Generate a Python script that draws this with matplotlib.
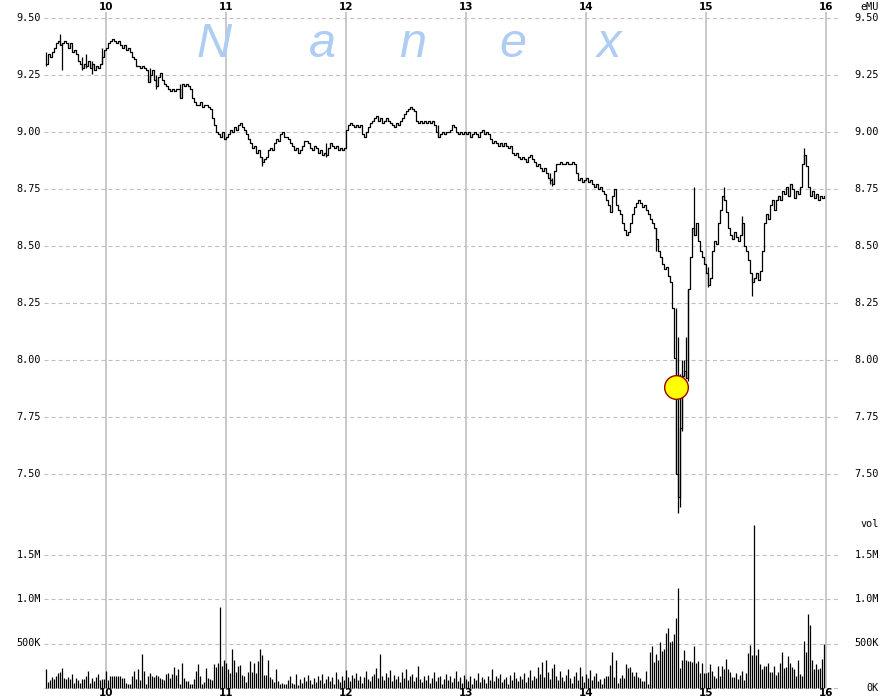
import numpy as np
import matplotlib.pyplot as plt
from matplotlib.transforms import blended_transform_factory

# one close per minute, 9:30 -> 16:00
close = [
    9.30, 9.34, 9.33, 9.35, 9.37, 9.39, 9.40, 9.38, 9.39, 9.40,
    9.39, 9.37, 9.39, 9.35, 9.36, 9.34, 9.31, 9.30, 9.28, 9.30,
    9.29, 9.31, 9.28, 9.30, 9.27, 9.29, 9.28, 9.30, 9.33, 9.36,
    9.37, 9.39, 9.40, 9.41, 9.40, 9.39, 9.40, 9.38, 9.37, 9.38,
    9.36, 9.37, 9.35, 9.33, 9.32, 9.29, 9.29, 9.28, 9.29, 9.28,
    9.27, 9.22, 9.25, 9.27, 9.23, 9.20, 9.24, 9.26, 9.23, 9.21,
    9.20, 9.19, 9.18, 9.19, 9.18, 9.19, 9.19, 9.15, 9.21, 9.20,
    9.21, 9.20, 9.19, 9.15, 9.13, 9.12, 9.12, 9.13, 9.11, 9.12,
    9.12, 9.11, 9.10, 9.06, 9.03, 9.00, 8.99, 8.98, 9.00, 8.97,
    8.98, 8.99, 9.01, 9.00, 9.02, 9.01, 9.03, 9.04, 9.02, 9.01,
    8.99, 8.97, 8.95, 8.93, 8.94, 8.91, 8.92, 8.89, 8.87, 8.88,
    8.89, 8.92, 8.93, 8.92, 8.95, 8.97, 8.96, 8.99, 9.00, 8.98,
    8.98, 8.97, 8.95, 8.94, 8.92, 8.93, 8.91, 8.92, 8.94, 8.96,
    8.96, 8.95, 8.93, 8.92, 8.94, 8.93, 8.91, 8.92, 8.90, 8.91,
    8.90, 8.93, 8.95, 8.94, 8.93, 8.94, 8.92, 8.93, 8.92, 8.93,
    9.01, 9.03, 9.04, 9.03, 9.02, 9.03, 9.02, 9.03, 8.99, 8.98,
    9.00, 9.02, 9.04, 9.05, 9.06, 9.07, 9.05, 9.06, 9.04, 9.05,
    9.06, 9.05, 9.04, 9.03, 9.02, 9.04, 9.03, 9.05, 9.06, 9.08,
    9.09, 9.10, 9.11, 9.10, 9.09, 9.05, 9.04, 9.05, 9.04, 9.05,
    9.04, 9.05, 9.04, 9.05, 9.03, 9.00, 8.98, 8.99, 9.00, 8.99,
    9.00, 9.00, 9.01, 9.03, 9.02, 9.00, 8.99, 9.00, 8.99, 9.00,
    8.99, 9.00, 8.98, 8.99, 9.00, 8.99, 8.98, 9.00, 9.01, 8.99,
    9.00, 8.99, 8.97, 8.95, 8.96, 8.95, 8.94, 8.95, 8.94, 8.95,
    8.94, 8.93, 8.94, 8.91, 8.90, 8.91, 8.89, 8.88, 8.89, 8.88,
    8.87, 8.89, 8.90, 8.88, 8.87, 8.85, 8.86, 8.84, 8.83, 8.84,
    8.82, 8.80, 8.79, 8.77, 8.83, 8.86, 8.86, 8.87, 8.86, 8.86,
    8.87, 8.86, 8.86, 8.87, 8.86, 8.82, 8.79, 8.80, 8.78, 8.79,
    8.80, 8.78, 8.79, 8.77, 8.76, 8.77, 8.75, 8.76, 8.74, 8.73,
    8.70, 8.68, 8.65, 8.72, 8.75, 8.68, 8.66, 8.64, 8.60, 8.57,
    8.55, 8.56, 8.60, 8.64, 8.67, 8.69, 8.70, 8.69, 8.67, 8.68,
    8.66, 8.64, 8.62, 8.60, 8.58, 8.53, 8.48, 8.45, 8.42, 8.40,
    8.41, 8.37, 8.34, 8.23, 8.01, 7.50, 7.40, 7.70, 7.93, 7.95,
    7.92, 8.31, 8.45, 8.58, 8.55, 8.60, 8.52, 8.48, 8.45, 8.42,
    8.38, 8.33, 8.36, 8.48, 8.52, 8.51, 8.60, 8.66, 8.72, 8.70,
    8.65, 8.58, 8.55, 8.53, 8.56, 8.54, 8.52, 8.55, 8.60, 8.50,
    8.48, 8.44, 8.38, 8.34, 8.36, 8.38, 8.35, 8.39, 8.48, 8.60,
    8.64, 8.62, 8.68, 8.70, 8.66, 8.70, 8.72, 8.70, 8.74, 8.73,
    8.76, 8.72, 8.77, 8.75, 8.71, 8.74, 8.73, 8.76, 8.86, 8.90,
    8.85, 8.76, 8.72, 8.74, 8.71, 8.73, 8.70, 8.72, 8.71, 8.72,
]

# bars whose high / low reach past open and close
spike_min = [0, 7, 8, 18, 20, 23, 28, 52, 55, 67, 108, 140, 196, 252, 253, 305,
             315, 316, 317, 318, 319, 320, 321, 324, 331, 339, 348, 353, 379]
spike_hi = [9.35, 9.43, 9.39, 9.33, 9.34, 9.31, 9.37, 9.28, 9.25, 9.21, 8.89, 8.95,
            9.03, 8.82, 8.80, 8.58, 8.23, 8.10, 7.94, 8.00, 8.00, 8.10, 8.31, 8.76,
            8.41, 8.76, 8.63, 8.36, 8.93]
spike_lo = [9.29, 9.38, 9.27, 9.27, 9.28, 9.255, 9.30, 9.22, 9.19, 9.15, 8.85, 8.89,
            8.98, 8.77, 8.765, 8.48, 7.50, 7.33, 7.355, 7.69, 7.93, 7.92, 7.91, 8.55,
            8.32, 8.70, 8.55, 8.28, 8.86]

# volume per minute, millions of shares
volume = [
    0.21, 0.07, 0.09, 0.12, 0.10, 0.13, 0.17, 0.18, 0.22, 0.11,
    0.10, 0.12, 0.10, 0.16, 0.06, 0.11, 0.09, 0.06, 0.10, 0.10,
    0.14, 0.19, 0.06, 0.11, 0.08, 0.12, 0.16, 0.09, 0.10, 0.10,
    0.19, 0.09, 0.13, 0.14, 0.14, 0.14, 0.14, 0.14, 0.11, 0.11,
    0.06, 0.04, 0.05, 0.14, 0.19, 0.10, 0.21, 0.09, 0.38, 0.19,
    0.04, 0.13, 0.17, 0.14, 0.12, 0.15, 0.14, 0.11, 0.10, 0.09,
    0.16, 0.17, 0.11, 0.16, 0.24, 0.15, 0.21, 0.05, 0.28, 0.11,
    0.08, 0.08, 0.04, 0.05, 0.10, 0.19, 0.27, 0.13, 0.04, 0.07,
    0.22, 0.11, 0.10, 0.09, 0.27, 0.24, 0.28, 0.91, 0.25, 0.32,
    0.28, 0.21, 0.17, 0.44, 0.31, 0.18, 0.25, 0.26, 0.15, 0.14,
    0.07, 0.18, 0.30, 0.18, 0.28, 0.17, 0.30, 0.44, 0.37, 0.15,
    0.15, 0.31, 0.12, 0.10, 0.07, 0.21, 0.08, 0.04, 0.06, 0.04,
    0.05, 0.09, 0.14, 0.06, 0.05, 0.16, 0.03,
    0.10, 0.06, 0.12, 0.08, 0.15, 0.09, 0.05, 0.11, 0.07, 0.13,
    0.09, 0.16, 0.06, 0.10, 0.14, 0.08, 0.12, 0.05, 0.18, 0.10,
    0.07, 0.13, 0.09, 0.20, 0.12, 0.08, 0.15, 0.11, 0.17, 0.09,
    0.14, 0.06, 0.12, 0.19, 0.10, 0.08, 0.13, 0.16, 0.22, 0.11,
    0.38, 0.14, 0.09, 0.17, 0.12, 0.20, 0.08, 0.15, 0.10, 0.13,
    0.07, 0.18, 0.11, 0.21, 0.09, 0.14, 0.16, 0.08, 0.12, 0.25,
    0.10, 0.07, 0.13, 0.09, 0.15, 0.06, 0.11, 0.18, 0.08, 0.12,
    0.14, 0.05, 0.10, 0.16, 0.09, 0.13, 0.07, 0.11, 0.19, 0.08,
    0.12, 0.06, 0.15, 0.10, 0.08, 0.14, 0.05, 0.11, 0.09, 0.17,
    0.07, 0.12, 0.10, 0.06, 0.14, 0.09, 0.21, 0.08, 0.13, 0.11,
    0.16, 0.07, 0.10, 0.12, 0.05, 0.15, 0.09, 0.18, 0.11, 0.08,
    0.13, 0.10, 0.17, 0.07, 0.12, 0.20, 0.09, 0.14, 0.11, 0.24,
    0.16, 0.29, 0.12, 0.31, 0.18, 0.10, 0.22, 0.27, 0.14, 0.09,
    0.19, 0.12, 0.08, 0.15, 0.21, 0.11, 0.06, 0.14, 0.18, 0.09,
    0.24, 0.13, 0.07, 0.16, 0.11, 0.20, 0.09, 0.13, 0.17, 0.08,
    0.10, 0.04, 0.11, 0.14, 0.14, 0.26, 0.40, 0.12, 0.31, 0.06,
    0.11, 0.15, 0.11, 0.27, 0.23, 0.24, 0.18, 0.13, 0.18, 0.12,
    0.11, 0.08, 0.08, 0.19, 0.05, 0.40, 0.47, 0.29, 0.38, 0.32,
    0.52, 0.42, 0.44, 0.62, 0.67, 0.52, 0.53, 0.61, 0.79, 1.12,
    0.23, 0.31, 0.43, 0.32, 0.30, 0.30, 0.29, 0.47, 0.28, 0.30,
    0.17, 0.28, 0.17, 0.17, 0.18, 0.27, 0.19, 0.14, 0.11, 0.25,
    0.14, 0.25, 0.21, 0.33, 0.21, 0.18, 0.12, 0.12, 0.17, 0.10,
    0.15, 0.19, 0.09, 0.17, 0.39, 0.48, 0.37, 1.83, 0.37, 0.44,
    0.27, 0.21, 0.25, 0.25, 0.28, 0.18, 0.18, 0.25, 0.15, 0.18,
    0.28, 0.40, 0.23, 0.24, 0.36, 0.28, 0.24, 0.21, 0.14, 0.32,
    0.16, 0.13, 0.53, 0.41, 0.83, 0.71, 0.32, 0.21, 0.27, 0.21,
    0.22, 0.33, 0.50,
]

hours = [10, 11, 12, 13, 14, 15, 16]
price_ticks = [9.50, 9.25, 9.00, 8.75, 8.50, 8.25, 8.00, 7.75, 7.50]
vol_ticks = [0.5, 1.0, 1.5]
vol_labels = ['500K', '1.0M', '1.5M']
marker_min = 315
marker_price = 7.88

GRID = '#c0c0c0'
MONO = 'DejaVu Sans Mono'
W, H = 880, 700

def box(l, t, r, b):
    return [l / W, 1 - b / H, (r - l) / W, (b - t) / H]

fig = plt.figure(figsize=(8.8, 7), dpi=100)
ax = fig.add_axes(box(44, 12, 838, 520))
axv = fig.add_axes(box(44, 520, 838, 690))

xmin, xmax = 9.5 - 2 / 120, 16 + 12 / 120
t_close = 9.5 + np.arange(len(close)) / 60
t_vol = 9.5 + np.arange(len(volume)) / 60
t_spike = 9.5 + np.array(spike_min) / 60

for a in (ax, axv):
    a.set_xlim(xmin, xmax)
    for s in a.spines.values():
        s.set_visible(False)
    a.set_xticks([])
    a.set_yticks([])
    a.patch.set_alpha(0)

ax.set_ylim(9.5 - (520 - 18) / 228, 9.5 + 6 / 228)
axv.set_ylim(-2 / 89, 168 / 89)

# grid
for p in price_ticks:
    ax.axhline(p, color=GRID, lw=0.8, ls=(0, (3.6, 2.8)), zorder=0)
for v in [0] + vol_ticks:
    axv.axhline(v, color=GRID, lw=0.8, ls=(0, (3.6, 2.8)), zorder=0, clip_on=False)
for h in hours:
    ax.axvline(h, color=GRID, lw=1.2, zorder=0)
    axv.vlines(h, 0, 168 / 89, color=GRID, lw=1.2, zorder=0)

# price
ax.step(t_close, close, where='post', color='black', lw=0.9, zorder=2)
ax.vlines(t_spike, spike_lo, spike_hi, color='black', lw=0.9, zorder=2)
ax.scatter([9.5 + marker_min / 60], [marker_price], s=290, facecolor='#ffff00',
           edgecolor='#990000', lw=1.0, zorder=3)

# volume
axv.vlines(t_vol, 0, volume, color='black', lw=0.9, zorder=2)

# labels
ty = ax.get_yaxis_transform()
for p in price_ticks:
    ax.text(-0.004, p, f'{p:.2f}', transform=ty, ha='right', va='center',
            family=MONO, fontsize=7.3)
    ax.text(1.0516, p, f'{p:.2f}', transform=ty, ha='right', va='center',
            family=MONO, fontsize=7.3)
tvy = axv.get_yaxis_transform()
for v, lab in zip(vol_ticks, vol_labels):
    axv.text(-0.004, v, lab, transform=tvy, ha='right', va='center',
             family=MONO, fontsize=7.3)
    axv.text(1.0516, v, lab, transform=tvy, ha='right', va='center',
             family=MONO, fontsize=7.3)
axv.text(1.0516, 0, '0K', transform=tvy, ha='right', va='center',
         family=MONO, fontsize=7.3)
fig.text(879 / W, 1 - 7 / H, 'eMU', ha='right', va='center', family=MONO, fontsize=7.3)
fig.text(879 / W, 1 - 524 / H, 'vol', ha='right', va='center', family=MONO, fontsize=7.3)

thx = blended_transform_factory(ax.transData, fig.transFigure)
for h in hours:
    fig.text(h, 1 - 7.5 / H, str(h), transform=thx, ha='center', va='center',
             family='DejaVu Sans', fontweight='bold', fontsize=7.5)
    fig.text(h, 1 - 693 / H, str(h), transform=thx, ha='center', va='center',
             family='DejaVu Sans', fontweight='bold', fontsize=7.5)

# watermark
for letter, px in zip('Nanex', [214, 322, 413, 513, 609]):
    fig.text(px / W, 1 - 57 / H, letter, ha='center', va='baseline',
             family='Liberation Sans', style='italic', fontsize=35,
             color='#aecdf2', zorder=0)

fig.savefig('out.png', dpi=100)
